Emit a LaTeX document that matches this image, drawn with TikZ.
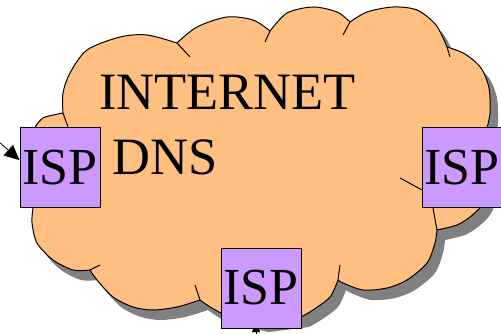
\documentclass[tikz,border=0pt]{standalone}
\usepackage{fontspec}
\setmainfont{Liberation Serif}
\newfontfamily\labelfont{Liberation Serif}
\usetikzlibrary{arrows.meta}

\definecolor{cloudfill}{HTML}{FFBF80}
\definecolor{cloudshade}{HTML}{808080}
\definecolor{ispfill}{HTML}{CC99FF}

% outer outline of the cloud, one smooth arc per lobe
\newcommand\cloudoutline{%
  (33,208) -- (35,127)
  -- plot[smooth] coordinates {(35,127) (43,118) (58,114) (63,113)}
  -- plot[smooth] coordinates {(63,113) (63,93) (70,73) (87,50) (120,37) (147,35) (177,43)}
  -- plot[smooth] coordinates {(177,43) (197,27) (227,17) (253,20) (270,31)}
  -- plot[smooth] coordinates {(270,31) (287,13) (313,7) (337,12) (350,22)}
  -- plot[smooth] coordinates {(350,22) (367,12) (393,7) (417,10) (436,25) (447,47)}
  -- plot[smooth] coordinates {(447,47) (465,54) (481,68) (489,88) (490,113) (487,128)}
  -- (485,200)
  -- plot[smooth] coordinates {(480,208) (470,217) (457,225) (437,230)}
  -- plot[smooth] coordinates {(437,230) (435,243) (427,263) (407,280) (387,288) (363,290) (343,283) (338,280)}
  -- plot[smooth] coordinates {(338,280) (330,297) (313,310) (301,317)}
  -- (261,322) -- (221,313)
  -- plot[smooth] coordinates {(221,313) (210,307) (200,300)}
  -- plot[smooth] coordinates {(200,300) (177,307) (153,310) (133,307) (113,297) (97,280) (90,270)}
  -- plot[smooth] coordinates {(90,270) (73,270) (53,260) (37,243) (32,223) (33,208)}
  -- cycle}

\tikzset{
  ispbox/.style={draw=black, line width=1pt, fill=ispfill, minimum width=80pt,
    minimum height=80pt, inner sep=0pt, font=\labelfont\fontsize{52}{60}\selectfont},
  cloudtext/.style={anchor=base west, inner sep=0pt, font=\labelfont\fontsize{52.5}{60}\selectfont},
  cloudline/.style={draw=black, line width=1pt, line join=round},
  feed/.style={draw=black, line width=0.8pt, -{Triangle[length=15pt, width=14pt]}}
}

\begin{document}
\begin{tikzpicture}[x=1pt, y=-1pt]
  \useasboundingbox (0,0) rectangle (501,334);

  % drop shadow and body of the cloud
  \fill[cloudshade] [shift={(8,10)}] \cloudoutline;
  \fill[cloudfill] \cloudoutline;
  \path[cloudline] (35,127) -- plot[smooth] coordinates {(35,127) (43,118) (58,114) (63,113)}
    -- plot[smooth] coordinates {(63,113) (63,93) (70,73) (87,50) (120,37) (147,35) (177,43)}
    -- plot[smooth] coordinates {(177,43) (197,27) (227,17) (253,20) (270,31)}
    -- plot[smooth] coordinates {(270,31) (287,13) (313,7) (337,12) (350,22)}
    -- plot[smooth] coordinates {(350,22) (367,12) (393,7) (417,10) (436,25) (447,47)}
    -- plot[smooth] coordinates {(447,47) (465,54) (481,68) (489,88) (490,113) (487,128)};
  \path[cloudline] (480,208)
    -- plot[smooth] coordinates {(480,208) (470,217) (457,225) (437,230)}
    -- plot[smooth] coordinates {(437,230) (435,243) (427,263) (407,280) (387,288) (363,290) (343,283) (338,280)}
    -- plot[smooth] coordinates {(338,280) (330,297) (313,310) (301,317)};
  \path[cloudline] (221,313)
    -- plot[smooth] coordinates {(221,313) (210,307) (200,300)}
    -- plot[smooth] coordinates {(200,300) (177,307) (153,310) (133,307) (113,297) (97,280) (90,270)}
    -- plot[smooth] coordinates {(90,270) (73,270) (53,260) (37,243) (32,223) (33,208)};

  % inner ticks where the lobes overlap
  \draw[cloudline] (63,113) -- (68,127);
  \draw[cloudline] (177,43) -- (190,57);
  \draw[cloudline] (270,31) -- (265,42);
  \draw[cloudline] (350,22) -- (343,35);
  \draw[cloudline] (447,47) -- (450,57);
  \draw[cloudline] (400,178) -- (422,190);
  \draw[cloudline] (433,208) -- (437,230);
  \draw[cloudline] (338,280) -- (340,265);
  \draw[cloudline] (200,300) -- (195,285);
  \draw[cloudline] (90,270) -- (100,265);

  % labels inside the cloud
  \node[cloudtext] (inet) at (99,110) {INTERNET};
  \node[cloudtext] (dns) at (112,175) {DNS};

  % feed entering the lower access point, tip hidden under its box
  \coordinate (bsrc) at (256,350);
  \coordinate (bpos) at (256,328);
  \draw[feed, -{Triangle[length=9pt, width=8pt]}, shorten >=-5pt] (bsrc) -- (bpos);

  % access points on the cloud border
  \node[ispbox] (lisp) at (60,168) {ISP};
  \node[ispbox] (risp) at (462,168) {ISP};
  \node[ispbox] (bisp) at (261,288) {ISP};

  \coordinate (lsrc) at (-10,134);
  \draw[feed] (lsrc) -- (lisp.169);
\end{tikzpicture}
\end{document}
